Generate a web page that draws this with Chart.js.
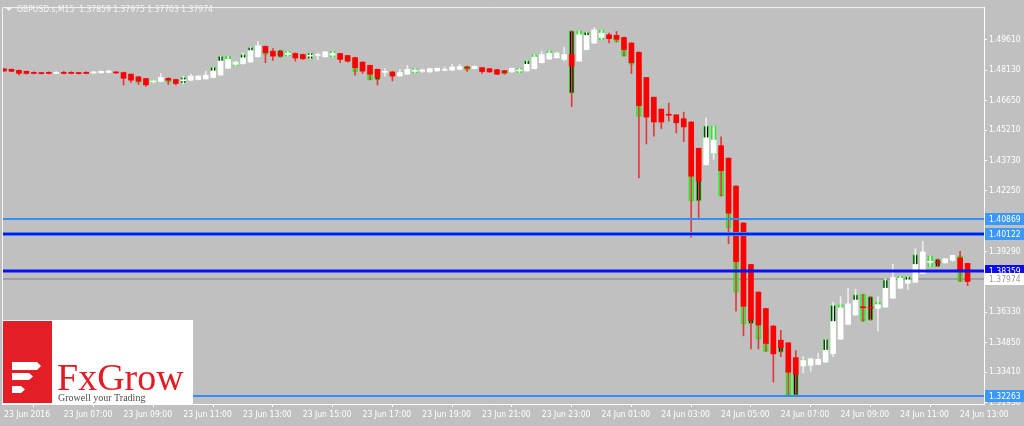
<!DOCTYPE html>
<html>
<head>
<meta charset="utf-8">
<script src="https://cdn.jsdelivr.net/npm/chart.js@4.4.1/dist/chart.umd.min.js"></script>
<style>
  html, body { margin: 0; padding: 0; background: #c0c0c0; }
  #wrap { width: 1024px; height: 426px; }
</style>
</head>
<body>
<div id="wrap"><canvas id="c" width="1024" height="426"></canvas></div>
<script>
// GBPUSD M15, 23 Jun 05:00 .. 24 Jun 13:15 (Heiken Ashi over the plain candles)
const symbolTitle = 'GBPUSD.s,M15  1.37859 1.37975 1.37703 1.37974';

const haOpen = [1.4819,1.4817,1.4812,1.4807,1.4802,1.4800,1.4802,1.4797,1.4802,1.4802,
  1.4801,1.4802,1.4799,1.4800,1.4802,1.4804,1.4801,1.4793,1.4780,1.4772,
  1.4754,1.4758,1.4773,1.4767,1.4761,1.4764,1.4767,1.4770,1.4777,1.4789,
  1.4822,1.4841,1.4844,1.4852,1.4878,1.4929,1.4905,1.4901,1.4889,1.4894,
  1.4889,1.4881,1.4885,1.4878,1.4886,1.4894,1.4884,1.4874,1.4852,1.4836,
  1.4817,1.4802,1.4804,1.4784,1.4793,1.4807,1.4807,1.4804,1.4809,1.4812,
  1.4813,1.4817,1.4828,1.4820,1.4825,1.4820,1.4815,1.4810,1.4804,1.4809,
  1.4809,1.4820,1.4849,1.4867,1.4873,1.4865,1.4889,1.4857,1.4913,1.4945,
  1.4972,1.4985,1.4982,1.4972,1.4945,1.4900,1.4777,1.4681,1.4623,1.4598,
  1.4595,1.4576,1.4560,1.4432,1.4352,1.4408,1.4445,1.4384,1.4248,1.4068,
  1.3866,1.3731,1.3651,1.3566,1.3497,1.3484,1.3412,1.3371,1.3374,1.3379,
  1.3390,1.3431,1.3502,1.3574,1.3620,1.3660,1.3658,1.3651,1.3658,1.3702,
  1.3750,1.3774,1.3779,1.3822,1.3876,1.3878,1.3874,1.3886,1.3898,1.3871];
const haHigh = [1.4822,1.4819,1.4814,1.4809,1.4805,1.4802,1.4805,1.4805,1.4807,1.4805,
  1.4802,1.4805,1.4807,1.4809,1.4812,1.4806,1.4804,1.4795,1.4783,1.4773,
  1.4765,1.4797,1.4776,1.4769,1.4783,1.4793,1.4786,1.4808,1.4828,1.4881,
  1.4881,1.4857,1.4897,1.4924,1.4953,1.4930,1.4918,1.4910,1.4905,1.4897,
  1.4891,1.4897,1.4897,1.4903,1.4905,1.4895,1.4885,1.4876,1.4854,1.4837,
  1.4818,1.4820,1.4806,1.4817,1.4836,1.4820,1.4818,1.4822,1.4823,1.4828,
  1.4841,1.4842,1.4833,1.4833,1.4826,1.4822,1.4817,1.4812,1.4823,1.4822,
  1.4860,1.4889,1.4905,1.4907,1.4900,1.4924,1.5004,1.5004,1.4998,1.5020,
  1.5009,1.4993,1.5001,1.4974,1.4947,1.4902,1.4778,1.4682,1.4624,1.4652,
  1.4596,1.4608,1.4562,1.4433,1.4580,1.4541,1.4488,1.4385,1.4249,1.4069,
  1.3867,1.3733,1.3653,1.3568,1.3545,1.3486,1.3446,1.3417,1.3410,1.3433,
  1.3502,1.3683,1.3710,1.3750,1.3746,1.3721,1.3710,1.3710,1.3798,1.3868,
  1.3811,1.3807,1.3943,1.3978,1.3908,1.3893,1.3896,1.3911,1.3930,1.3872];
const haLow = [1.4807,1.4805,1.4789,1.4793,1.4795,1.4794,1.4795,1.4795,1.4794,1.4795,
  1.4794,1.4795,1.4797,1.4797,1.4800,1.4797,1.4740,1.4753,1.4743,1.4733,
  1.4749,1.4756,1.4743,1.4741,1.4745,1.4761,1.4765,1.4769,1.4775,1.4788,
  1.4820,1.4833,1.4842,1.4850,1.4876,1.4849,1.4860,1.4876,1.4881,1.4857,
  1.4865,1.4868,1.4865,1.4876,1.4878,1.4849,1.4852,1.4788,1.4797,1.4765,
  1.4740,1.4782,1.4760,1.4783,1.4791,1.4801,1.4801,1.4802,1.4807,1.4809,
  1.4812,1.4815,1.4806,1.4818,1.4797,1.4802,1.4791,1.4793,1.4802,1.4801,
  1.4807,1.4818,1.4847,1.4865,1.4871,1.4857,1.4635,1.4855,1.4911,1.4943,
  1.4961,1.4945,1.4950,1.4881,1.4796,1.4288,1.4453,1.4491,1.4528,1.4565,
  1.4507,1.4464,1.3999,1.4092,1.4350,1.4376,1.4199,1.3967,1.3638,1.3518,
  1.3454,1.3454,1.3442,1.3293,1.3417,1.3229,1.3229,1.3337,1.3346,1.3377,
  1.3388,1.3417,1.3500,1.3572,1.3619,1.3588,1.3594,1.3542,1.3656,1.3701,
  1.3749,1.3743,1.3778,1.3821,1.3855,1.3855,1.3872,1.3882,1.3783,1.3763];
const haClose = [1.4809,1.4807,1.4797,1.4797,1.4797,1.4796,1.4797,1.4802,1.4797,1.4797,
  1.4796,1.4797,1.4804,1.4807,1.4809,1.4799,1.4773,1.4764,1.4759,1.4741,
  1.4761,1.4777,1.4764,1.4748,1.4766,1.4784,1.4784,1.4789,1.4809,1.4857,
  1.4865,1.4853,1.4873,1.4908,1.4932,1.4897,1.4881,1.4886,1.4896,1.4872,
  1.4868,1.4886,1.4890,1.4902,1.4894,1.4865,1.4857,1.4825,1.4808,1.4793,
  1.4777,1.4806,1.4784,1.4801,1.4817,1.4813,1.4814,1.4820,1.4822,1.4817,
  1.4828,1.4830,1.4822,1.4831,1.4806,1.4804,1.4793,1.4800,1.4822,1.4814,
  1.4841,1.4876,1.4889,1.4895,1.4897,1.4889,1.4833,1.4985,1.4982,1.5009,
  1.4993,1.4966,1.4963,1.4913,1.4849,1.4640,1.4584,1.4560,1.4560,1.4593,
  1.4556,1.4536,1.4296,1.4272,1.4483,1.4472,1.4323,1.4116,1.3879,1.3662,
  1.3593,1.3571,1.3481,1.3430,1.3460,1.3341,1.3330,1.3398,1.3406,1.3404,
  1.3448,1.3588,1.3654,1.3674,1.3692,1.3655,1.3653,1.3670,1.3750,1.3802,
  1.3798,1.3791,1.3866,1.3927,1.3881,1.3873,1.3893,1.3910,1.3831,1.3783];

// plain candle bodies (lime outlined) where they show out from under the HA bars
const barOpen = [null,null,null,null,null,null,null,null,null,null,
  null,null,null,null,null,null,null,null,1.4769,null,
  1.4765,null,1.4773,null,1.4749,null,null,null,1.4777,1.4789,
  1.4881,1.4857,1.4844,1.4852,null,1.4929,null,1.4876,1.4905,null,
  1.4889,1.4868,null,null,1.4905,null,1.4884,1.4865,null,1.4817,
  1.4765,null,null,1.4801,null,1.4820,null,null,null,null,
  null,null,1.4833,null,null,null,null,1.4810,1.4822,1.4822,
  1.4809,1.4889,null,1.4907,1.4900,1.4889,1.4700,1.5004,1.4913,null,
  1.5009,null,1.4982,1.4937,1.4889,1.4841,null,null,null,null,
  null,null,1.4504,1.4176,1.4352,1.4541,1.4408,1.4264,1.4071,1.3831,
  1.3577,1.3600,1.3542,null,1.3438,1.3360,1.3229,1.3401,1.3406,null,
  1.3390,1.3431,1.3670,null,1.3620,1.3721,1.3594,1.3681,1.3658,null,
  1.3811,1.3774,1.3779,null,1.3908,1.3855,null,1.3886,1.3908,1.37859];
const barClose = [null,null,null,null,null,null,null,null,null,null,
  null,null,null,null,null,null,null,null,1.4753,null,
  1.4749,null,1.4756,null,1.4778,null,null,null,1.4828,1.4881,
  1.4865,1.4833,1.4889,1.4924,null,1.4889,null,1.4910,1.4881,null,
  1.4868,1.4897,null,null,1.4878,null,1.4855,1.4804,null,1.4765,
  1.4785,null,null,1.4784,null,1.4801,null,null,null,null,
  null,null,1.4813,null,null,null,null,1.4793,1.4804,1.4801,
  1.4860,1.4870,null,1.4889,1.4889,1.4865,1.5004,1.4980,1.4998,null,
  1.4961,null,1.4950,1.4881,1.4841,1.4587,null,null,null,null,
  null,null,1.4176,1.4408,1.4541,1.4403,1.4200,1.4044,1.3731,1.3577,
  1.3610,1.3502,1.3442,null,1.3470,1.3229,1.3340,1.3369,1.3374,null,
  1.3502,1.3667,1.3638,null,1.3719,1.3590,1.3710,1.3651,1.3791,null,
  1.3750,1.3807,1.3914,null,1.3855,1.3892,null,1.3910,1.3783,1.37974];

const xTickIndex = [0,8,16,24,32,40,48,56,64,72,80,88,96,104,112,120,128];
const xTickLabels = ['23 Jun 2016','23 Jun 07:00','23 Jun 09:00','23 Jun 11:00','23 Jun 13:00',
  '23 Jun 15:00','23 Jun 17:00','23 Jun 19:00','23 Jun 21:00','23 Jun 23:00','24 Jun 01:00',
  '24 Jun 03:00','24 Jun 05:00','24 Jun 07:00','24 Jun 09:00','24 Jun 11:00','24 Jun 13:00'];
const yTicks = [1.49610,1.48130,1.46650,1.45210,1.43730,1.42250,1.39290,1.36330,1.34850,1.33410,1.31930];

const levelValues = [1.40869, 1.40122, 1.38359, 1.32263];
const bidValue = 1.37974;

const FAMILY = '"DejaVu Sans Condensed", "DejaVu Sans", sans-serif';
const FONT = '8.5px ' + FAMILY;
const RED = '#ff0000', WHITE = '#ffffff', LIME = '#22ee22';

const idx = haOpen.map((_, i) => i);
const bull = i => haClose[i] >= haOpen[i];

const overlay = {
  id: 'overlay',
  beforeDatasetsDraw(chart) {
    const {ctx, chartArea: a, scales: {y}} = chart;
    const py = Math.round(y.getPixelForValue(bidValue));
    ctx.save();
    ctx.strokeStyle = '#9aa0a4';
    ctx.lineWidth = 2;
    ctx.beginPath(); ctx.moveTo(a.left, py); ctx.lineTo(a.right, py); ctx.stroke();
    ctx.restore();
  },
  afterDatasetsDraw(chart) {
    const {ctx, chartArea: a, scales: {y}} = chart;
    const line = (v, color, w) => {
      const py = Math.round(y.getPixelForValue(v));
      ctx.strokeStyle = color; ctx.lineWidth = w;
      ctx.beginPath(); ctx.moveTo(a.left, py); ctx.lineTo(a.right, py); ctx.stroke();
    };
    ctx.save();
    line(levelValues[0], '#2f8fff', 2);
    line(levelValues[1], '#2f8fff', 4);
    line(levelValues[1], '#0a14e6', 2);
    line(levelValues[2], '#0a10ee', 3);
    line(levelValues[3], '#2f8fff', 2);
    ctx.restore();
  },
  afterDraw(chart) {
    const {ctx, chartArea: a, scales: {y}} = chart;
    ctx.save();
    // frame top / left
    ctx.strokeStyle = '#f2f2f2'; ctx.lineWidth = 1;
    ctx.beginPath();
    ctx.moveTo(a.left + 0.5, a.bottom); ctx.lineTo(a.left + 0.5, a.top + 0.5); ctx.lineTo(a.right, a.top + 0.5);
    ctx.stroke();

    // price tags on the right
    const tags = [
      [levelValues[0], '#3a98ff', '#ffffff'],
      [levelValues[1], '#3a98ff', '#ffffff'],
      [levelValues[2], '#0c0ce8', '#ffffff'],
      [bidValue, '#ffffff', '#9a9a9a'],
      [levelValues[3], '#3a98ff', '#ffffff']
    ];
    ctx.font = FONT; ctx.textBaseline = 'middle'; ctx.textAlign = 'left';
    tags.forEach(([v, bg, fg]) => {
      const py = Math.round(y.getPixelForValue(v));
      ctx.fillStyle = bg; ctx.fillRect(a.right + 1, py - 6, 40, 12);
      ctx.fillStyle = fg; ctx.fillText(v.toFixed(5), a.right + 5, py + 0.5);
    });

    // title
    ctx.fillStyle = '#f4f4f4';
    ctx.beginPath(); ctx.moveTo(6, 8); ctx.lineTo(12, 8); ctx.lineTo(9, 11); ctx.closePath(); ctx.fill();
    ctx.fillText(symbolTitle, 17, 10);

    // logo
    ctx.fillStyle = '#ffffff'; ctx.fillRect(3, 320, 190, 84);
    ctx.fillStyle = '#e41e26'; ctx.fillRect(3, 321, 49, 82);
    ctx.fillStyle = '#ffffff';
    [[362, 370, 37, 41], [373, 380, 29, 33], [386, 393, 21, 25]].forEach(([t, b, e, tip]) => {
      ctx.beginPath();
      ctx.moveTo(12, t); ctx.lineTo(e, t); ctx.lineTo(tip, (t + b) / 2); ctx.lineTo(e, b); ctx.lineTo(12, b);
      ctx.closePath(); ctx.fill();
    });
    ctx.textBaseline = 'alphabetic';
    ctx.fillStyle = '#e31b23';
    ctx.font = '38px "Liberation Serif", "DejaVu Serif", serif';
    ctx.fillText('FxGrow', 57, 390);
    ctx.fillStyle = '#4d4d4d';
    ctx.font = '10px "Liberation Serif", "DejaVu Serif", serif';
    ctx.fillText('Growell your Trading', 58, 401);
    ctx.restore();
  }
};

new Chart(document.getElementById('c'), {
  type: 'bar',
  data: {
    datasets: [
      {
        label: 'bars',
        order: 3,
        data: idx.filter(i => barOpen[i] !== null).map(i => ({x: i, y: [barOpen[i], barClose[i]]})),
        barThickness: 5,
        borderWidth: 1,
        borderColor: LIME,
        borderSkipped: false,
        backgroundColor: c => (c.raw && c.raw.y[1] > c.raw.y[0]) ? '#000000' : 'rgba(0,0,0,0)'
      },
      {
        label: 'ha wick',
        order: 2,
        data: idx.map(i => ({x: i, y: [haLow[i], haHigh[i]]})),
        barThickness: 1,
        backgroundColor: c => bull(c.dataIndex) ? '#ececec' : '#e23a3a'
      },
      {
        label: 'ha body',
        order: 1,
        data: idx.map(i => ({x: i, y: [haOpen[i], haClose[i]]})),
        barThickness: 5,
        minBarLength: 1,
        backgroundColor: c => bull(c.dataIndex) ? WHITE : RED
      }
    ]
  },
  options: {
    responsive: false,
    animation: false,
    grouped: false,
    layout: {padding: {left: 2, top: 2, right: 0, bottom: 0}},
    plugins: {legend: {display: false}, tooltip: {enabled: false}},
    scales: {
      x: {
        type: 'linear',
        offset: false,
        min: -0.27,
        max: 131.2,
        afterBuildTicks: s => { s.ticks = xTickIndex.map(v => ({value: v})); },
        afterFit: s => { s.height = 22; },
        ticks: {
          callback: v => xTickLabels[xTickIndex.indexOf(v)],
          color: '#ffffff', font: {family: FAMILY, size: 8.5},
          align: 'start', maxRotation: 0, autoSkip: false, padding: 3
        },
        grid: {drawOnChartArea: false, color: '#ffffff', tickLength: 3},
        border: {color: '#ffffff'}
      },
      y: {
        type: 'linear',
        position: 'right',
        min: 1.3186,
        max: 1.5120,
        afterBuildTicks: s => { s.ticks = yTicks.map(v => ({value: v})); },
        afterFit: s => { s.width = 40; },
        ticks: {
          callback: v => v.toFixed(5),
          color: '#ffffff', font: {family: FAMILY, size: 8.5},
          padding: 2
        },
        grid: {drawOnChartArea: false, color: '#ffffff', tickLength: 3},
        border: {color: '#ffffff'}
      }
    }
  },
  plugins: [overlay]
});
</script>
</body>
</html>
